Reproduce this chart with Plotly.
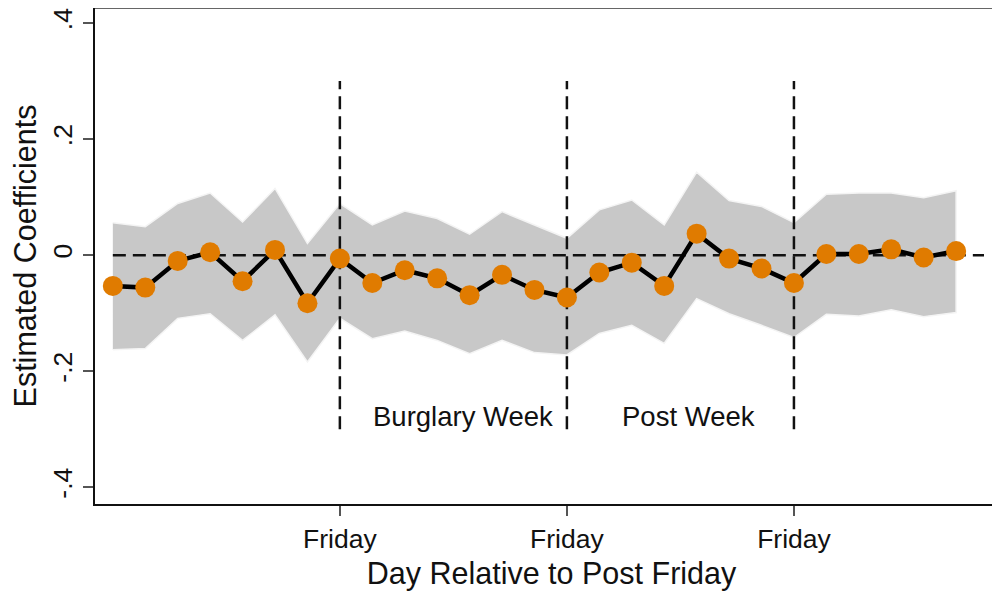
import plotly.graph_objects as go

days = list(range(-21, 6))
coef = [-0.053, -0.056, -0.010, 0.005, -0.045, 0.009, -0.083, -0.006, -0.048,
        -0.026, -0.040, -0.069, -0.034, -0.060, -0.073, -0.030, -0.013, -0.053,
        0.037, -0.006, -0.023, -0.048, 0.002, 0.002, 0.010, -0.004, 0.007]
upper = [0.056, 0.049, 0.089, 0.107, 0.057, 0.115, 0.020, 0.089, 0.052,
         0.076, 0.063, 0.036, 0.075, 0.052, 0.029, 0.078, 0.095, 0.052,
         0.143, 0.094, 0.084, 0.056, 0.105, 0.107, 0.107, 0.099, 0.111]
lower = [-0.163, -0.161, -0.109, -0.101, -0.147, -0.103, -0.184, -0.109, -0.144,
         -0.131, -0.147, -0.170, -0.147, -0.168, -0.172, -0.135, -0.121, -0.152,
         -0.075, -0.101, -0.121, -0.142, -0.102, -0.105, -0.094, -0.106, -0.099]
friday_ticks = [-14, -7, 0]
friday_labels = ["Friday", "Friday", "Friday"]
y_ticks = [-0.4, -0.2, 0, 0.2, 0.4]
y_labels = ["-.4", "-.2", "0", ".2", ".4"]
period_labels = ["Burglary Week", "Post Week"]
period_x = [-10.2, -3.25]

FONT = "Liberation Sans, Arial, sans-serif"
ORANGE = "#E07B00"

fig = go.Figure()

fig.add_trace(go.Scatter(
    x=days + days[::-1], y=upper + lower[::-1],
    fill="toself", fillcolor="#c8c8c8",
    line=dict(color="#f4f4f4", width=1.5),
    mode="lines", hoverinfo="skip", showlegend=False))

# zero reference line
fig.add_trace(go.Scatter(
    x=[days[0], days[-1] + 0.86], y=[0, 0], mode="lines",
    line=dict(color="#111111", width=2.5, dash="13px,7px"),
    hoverinfo="skip", showlegend=False))

# vertical Friday lines
for f in friday_ticks:
    fig.add_trace(go.Scatter(
        x=[f, f], y=[-0.3, 0.3], mode="lines",
        line=dict(color="#111111", width=2.5, dash="13px,7px"),
        hoverinfo="skip", showlegend=False))

fig.add_trace(go.Scatter(
    x=days, y=coef, mode="lines+markers",
    line=dict(color="black", width=4.5),
    marker=dict(color=ORANGE, size=20),
    showlegend=False))

for lab, xp in zip(period_labels, period_x):
    fig.add_annotation(x=xp, y=-0.279, text=lab, showarrow=False,
                       font=dict(family=FONT, size=27.5, color="#111111"),
                       xanchor="center", yanchor="middle")

# top border
fig.add_shape(type="line", xref="paper", yref="paper", x0=0, x1=1, y0=1, y1=1,
              line=dict(color="#666666", width=2))

fig.update_layout(
    width=1000, height=595,
    margin=dict(l=87, r=0, t=0, b=99),
    paper_bgcolor="white", plot_bgcolor="white",
    font=dict(family=FONT, color="#111111"),
    xaxis=dict(range=[-21.55, 6.6], tickvals=friday_ticks, ticktext=friday_labels,
               showgrid=False, zeroline=False, showline=True, linecolor="#111111", linewidth=2,
               ticks="outside", ticklen=10, tickwidth=1.5, tickcolor="#555555",
               tickfont=dict(size=26.5, family=FONT), automargin=False,
               title=dict(text="Day Relative to Post Friday", font=dict(size=30.5, family=FONT), standoff=10)),
    yaxis=dict(range=[-0.429, 0.426], tickvals=y_ticks, ticktext=y_labels,
               showgrid=False, zeroline=False, showline=True, linecolor="#111111", linewidth=2,
               ticks="outside", ticklen=10, tickwidth=1.5, tickcolor="#555555",
               tickangle=-90, tickfont=dict(size=26.5, family=FONT), automargin=False,
               title=dict(text="Estimated Coefficients", font=dict(size=30.5, family=FONT), standoff=8)),
)

fig.write_html("out.html")
